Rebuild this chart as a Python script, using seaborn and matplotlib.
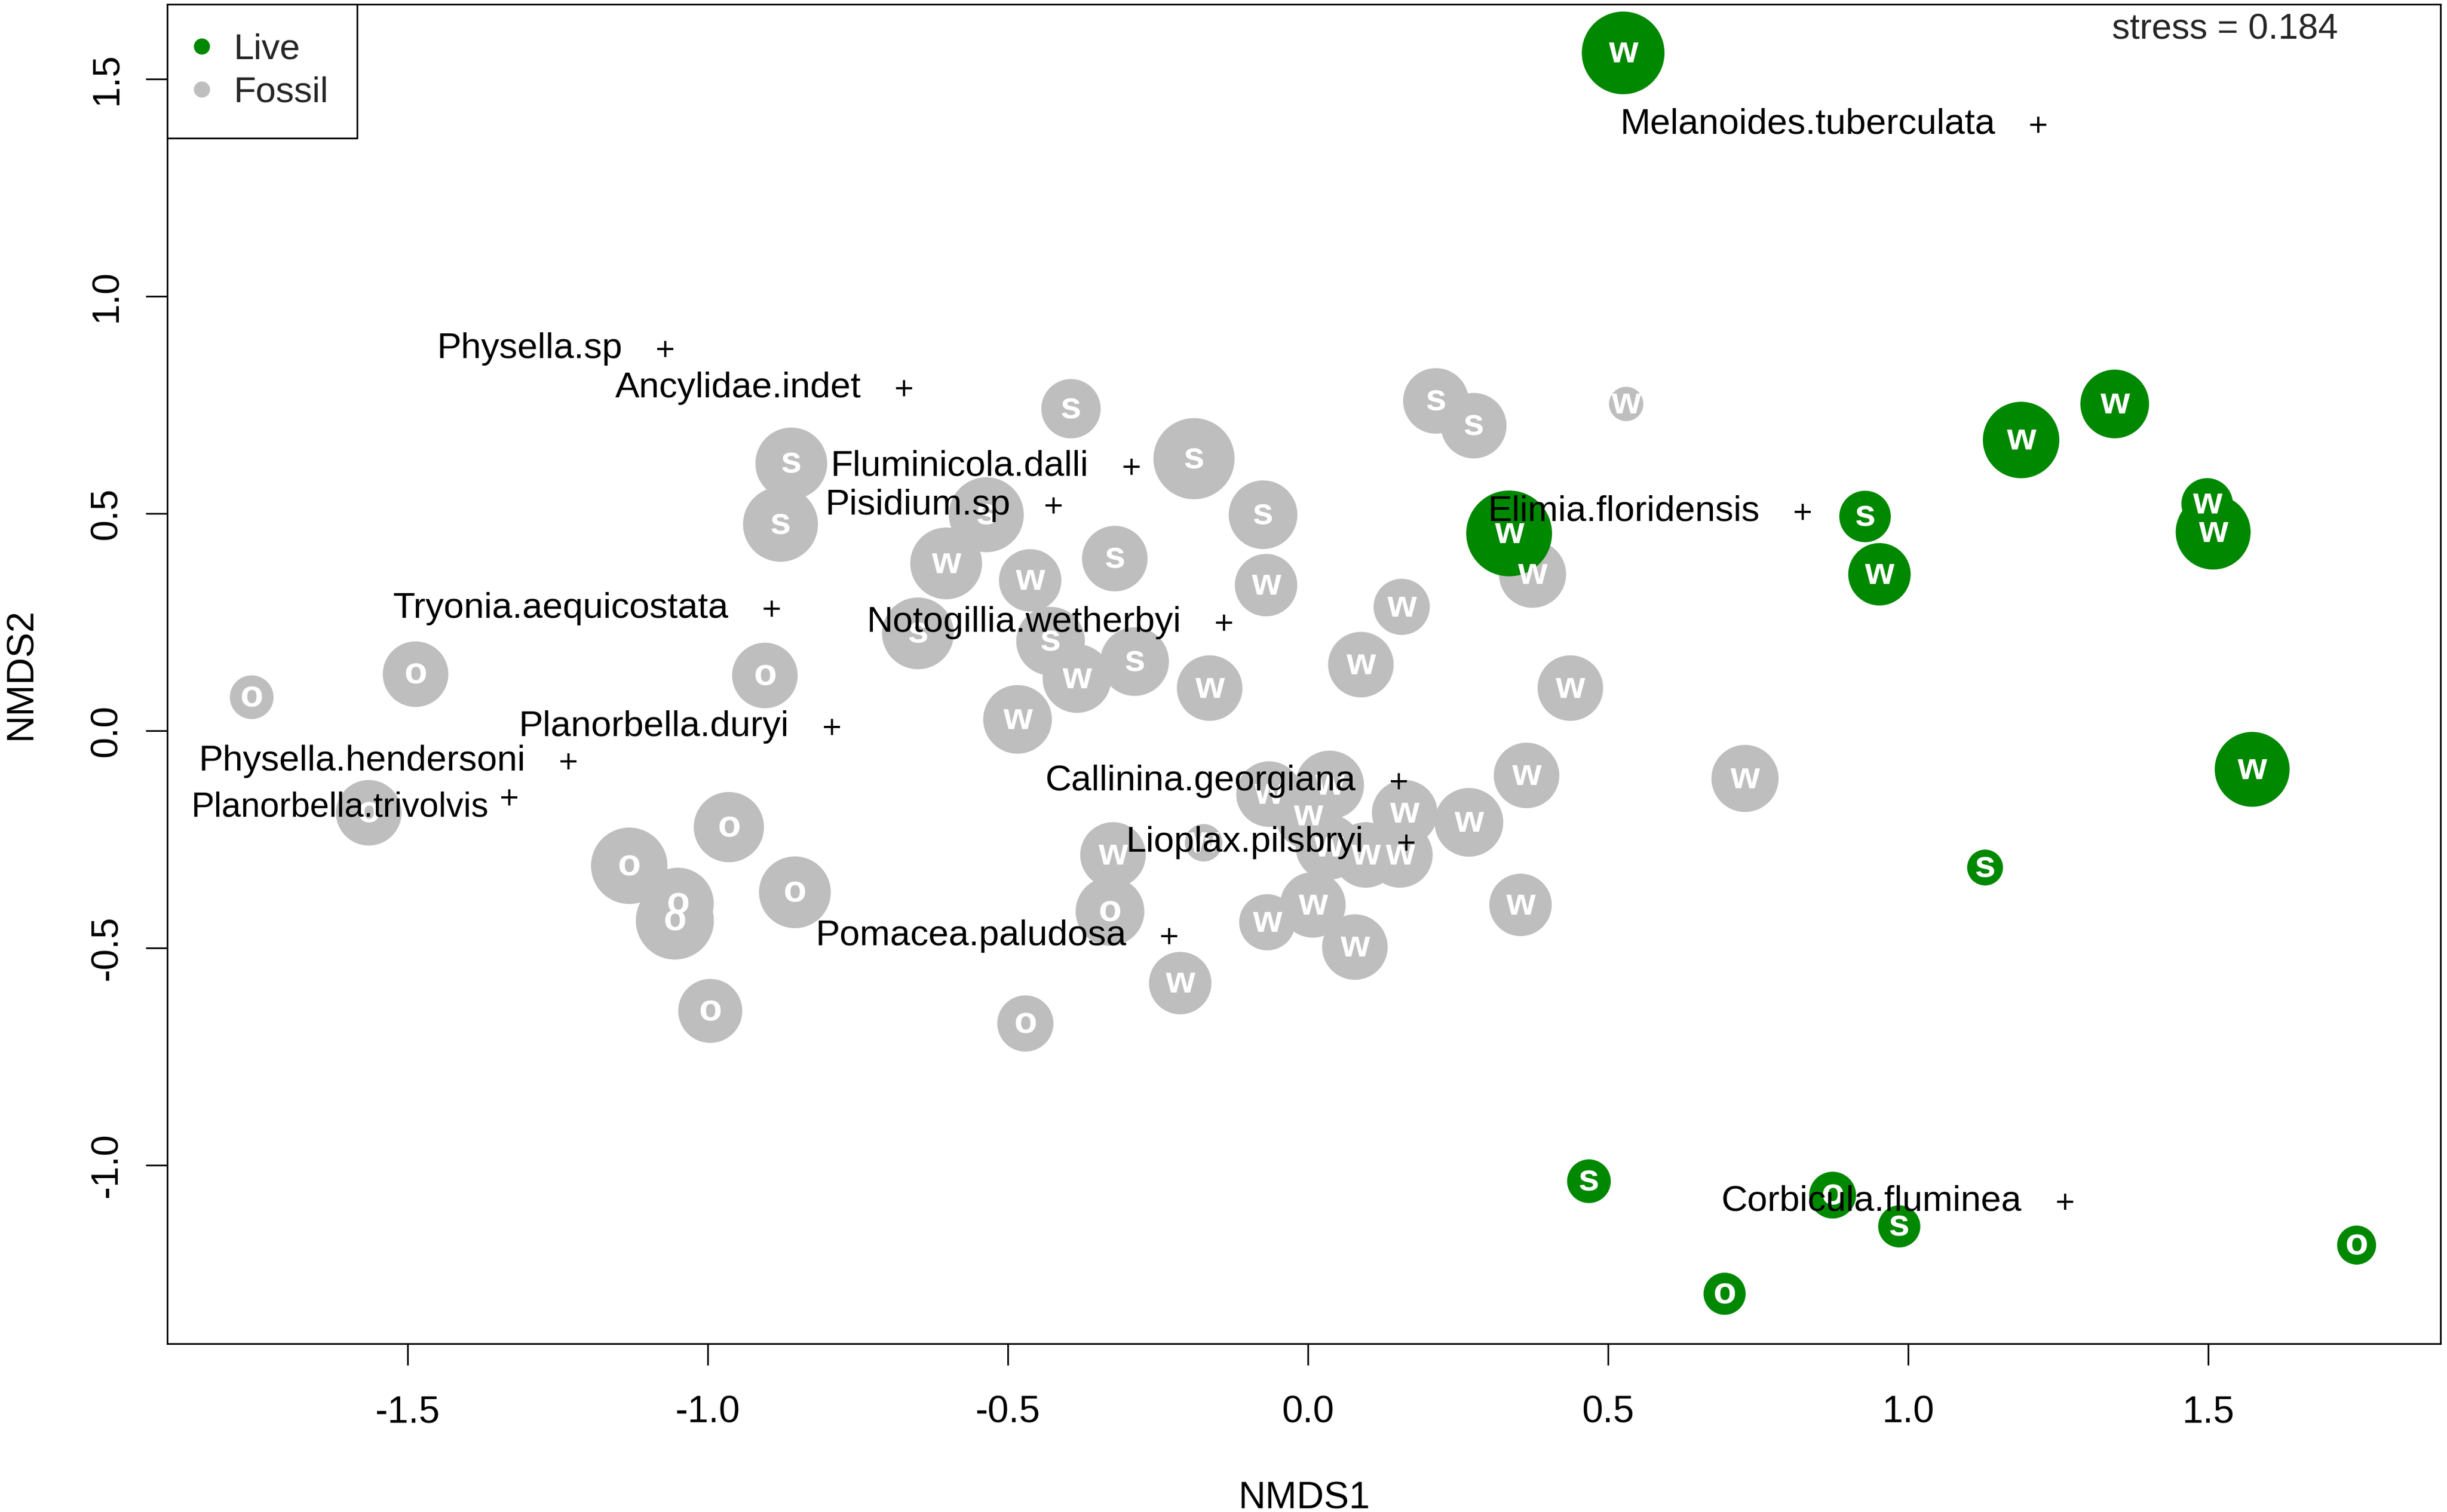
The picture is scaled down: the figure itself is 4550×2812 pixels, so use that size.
import matplotlib.pyplot as plt
from matplotlib.lines import Line2D
import seaborn as sns
import pandas as pd

sns.set_theme(style="ticks")
plt.rcParams["font.family"] = ["Liberation Sans", "DejaVu Sans"]
plt.rcParams["axes.unicode_minus"] = False

# ── Site scores (NMDS1, NMDS2), habitat letter and bubble size ──
fossil_x = [-1.760, -1.487, -0.905, -1.565, -1.131, -0.965, -1.050, -1.055, -0.855, -0.996,
            -0.471, -0.330, -0.861, -0.879, -0.395, -0.190, -0.536, -0.075, -0.322, 0.213,
            0.276, -0.603, -0.463, -0.650, -0.429, -0.385, -0.289, -0.164, -0.484, -0.070,
            0.156, 0.088, 0.437, 0.374, 0.364, 0.728, 0.268, -0.065, 0.036, 0.000,
            0.161, 0.096, 0.153, 0.034, -0.174, -0.325, 0.008, -0.068, 0.078, 0.354,
            -0.213, 0.530]
fossil_y = [0.077, 0.130, 0.127, -0.189, -0.311, -0.222, -0.398, -0.437, -0.372, -0.645,
            -0.674, -0.416, 0.615, 0.475, 0.741, 0.626, 0.497, 0.497, 0.396, 0.759,
            0.702, 0.385, 0.346, 0.224, 0.206, 0.120, 0.159, 0.098, 0.026, 0.335,
            0.285, 0.152, 0.098, 0.360, -0.103, -0.110, -0.211, -0.146, -0.125, -0.196,
            -0.189, -0.286, -0.286, -0.268, -0.258, -0.286, -0.401, -0.441, -0.498, -0.401,
            -0.581, 0.752]
fossil_hab = list("oooooooooooo" + "sssssssss" + "wwssws" + "w" * 25)
fossil_cex = [1.4, 2.1, 2.1, 2.1, 2.45, 2.25, 2.3, 2.5, 2.3, 2.05,
              1.8, 2.2, 2.3, 2.4, 1.9, 2.6, 2.4, 2.2, 2.1, 2.1,
              2.1, 2.3, 2.0, 2.3, 2.2, 2.2, 2.2, 2.1, 2.2, 2.0,
              1.8, 2.1, 2.1, 2.15, 2.1, 2.15, 2.2, 2.1, 2.2, 2.1,
              2.1, 2.1, 2.1, 2.1, 1.2, 2.1, 2.1, 1.8, 2.1, 2.0,
              2.0, 1.1]

live_x = [0.525, 0.335, 0.928, 0.952, 1.188, 1.344, 1.498, 1.508, 1.573, 1.128,
          0.468, 0.874, 0.985, 0.694, 1.747]
live_y = [1.560, 0.454, 0.493, 0.360, 0.669, 0.752, 0.522, 0.457, -0.089, -0.315,
          -1.037, -1.069, -1.141, -1.296, -1.184]
live_hab = list("wwswwwwwwssosoo")
live_cex = [2.65, 2.75, 1.65, 2.0, 2.45, 2.2, 1.65, 2.4, 2.4, 1.15,
            1.4, 1.5, 1.35, 1.35, 1.25]

# ── Species scores ──
species = ["Melanoides.tuberculata", "Physella.sp", "Ancylidae.indet", "Fluminicola.dalli",
           "Pisidium.sp", "Elimia.floridensis", "Tryonia.aequicostata", "Notogillia.wetherbyi",
           "Planorbella.duryi", "Physella.hendersoni", "Planorbella.trivolvis",
           "Callinina.georgiana", "Lioplax.pilsbryi", "Pomacea.paludosa", "Corbicula.fluminea"]
species_x = [1.217, -1.071, -0.673, -0.294, -0.424, 0.824, -0.894, -0.140,
             -0.793, -1.232, -1.331, 0.151, 0.164, -0.231, 1.261]
species_y = [1.395, 0.878, 0.788, 0.608, 0.518, 0.504, 0.281, 0.249,
             0.008, -0.071, -0.153, -0.117, -0.258, -0.473, -1.084]

stress = 0.184

sites = pd.concat([
    pd.DataFrame({"NMDS1": fossil_x, "NMDS2": fossil_y, "habitat": fossil_hab,
                  "cex": fossil_cex, "status": "Fossil"}),
    pd.DataFrame({"NMDS1": live_x, "NMDS2": live_y, "habitat": live_hab,
                  "cex": live_cex, "status": "Live"}),
], ignore_index=True)
spp = pd.DataFrame({"species": species, "NMDS1": species_x, "NMDS2": species_y})

palette = {"Live": "#008800", "Fossil": "#BEBEBE"}
base = 16.8
small = 16.2

fig = plt.figure(figsize=(4550 / 300, 2812 / 300), dpi=300)
ax = fig.add_axes([0.0684, 0.1113, 0.9290, 0.8859])

# bubbles
sns.scatterplot(data=sites, x="NMDS1", y="NMDS2", hue="status", palette=palette,
                s=((sites["cex"] * 13.93) ** 2).to_numpy(), linewidth=0,
                legend=False, ax=ax, zorder=2)
for _, r in sites.iterrows():
    ax.text(r["NMDS1"], r["NMDS2"], r["habitat"], color="white", fontweight="bold",
            fontsize=base, ha="center", va="center", zorder=3)

# species crosses + labels
sns.scatterplot(data=spp, x="NMDS1", y="NMDS2", marker="+", s=55, color="black",
                linewidth=1.0, legend=False, ax=ax, zorder=4)
# the trivolvis label sits tight against its cross, a bit lower
offsets = {"Planorbella.trivolvis": (-9, -4.6, 15.4)}
for _, r in spp.iterrows():
    dx, dy, fs = offsets.get(r["species"], (-19.2, 0, small))
    ax.annotate(r["species"], (r["NMDS1"], r["NMDS2"]), xytext=(dx, dy),
                textcoords="offset points", ha="right", va="center",
                fontsize=fs, color="black", zorder=5)

ax.text(0.9548, 0.981, f"stress = {stress}", transform=ax.transAxes,
        ha="right", va="center", fontsize=16.0)

# axes styling (R base look)
ax.set_xlim(-1.9005, 1.887)
ax.set_ylim(-1.411, 1.672)
ax.set_xticks([-1.5, -1.0, -0.5, 0.0, 0.5, 1.0, 1.5])
ax.set_yticks([-1.0, -0.5, 0.0, 0.5, 1.0, 1.5])
ax.set_xticklabels(["-1.5", "-1.0", "-0.5", "0.0", "0.5", "1.0", "1.5"])
ax.set_yticklabels(["-1.0", "-0.5", "0.0", "0.5", "1.0", "1.5"])
ax.tick_params(axis="both", direction="out", length=9.6, width=0.75,
               labelsize=base, color="black", labelcolor="black")
ax.tick_params(axis="x", pad=13.4)
ax.tick_params(axis="y", pad=9.4, labelrotation=90)
plt.setp(ax.get_yticklabels(), va="center")
for sp in ax.spines.values():
    sp.set_color("black")
    sp.set_linewidth(0.75)

ax.set_xlabel("NMDS1", fontsize=base, color="black")
ax.set_ylabel("NMDS2", fontsize=base, color="black")
ax.xaxis.set_label_coords(0.5, -0.1024)
ax.yaxis.set_label_coords(-0.0565, 0.5)

handles = [Line2D([], [], marker="o", linestyle="", markersize=7.2,
                  markerfacecolor=palette[k], markeredgewidth=0, label=k)
           for k in ["Live", "Fossil"]]
leg = ax.legend(handles=handles, loc="upper left", bbox_to_anchor=(0, 1),
                borderaxespad=0, fontsize=small, fancybox=False, framealpha=1,
                edgecolor="black", borderpad=0.8, labelspacing=0.26,
                handlelength=0.3, handletextpad=0.72)
leg.get_frame().set_linewidth(0.75)
leg.set_zorder(6)

fig.savefig("out.png", dpi=300)
